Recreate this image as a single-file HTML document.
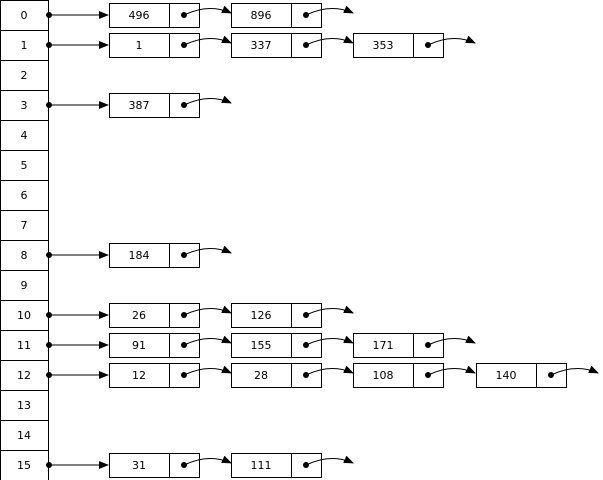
<!DOCTYPE html><html><head><style>body{margin:0;background:#fff}svg{display:block}text{font-family:"DejaVu Sans","Liberation Sans",sans-serif;font-size:11px;fill:#000}</style></head><body>
<svg width="603" height="480" xmlns="http://www.w3.org/2000/svg">
<defs><marker id="a" markerWidth="10" markerHeight="8" refX="9" refY="4" orient="auto" markerUnits="userSpaceOnUse"><path d="M0,0 L10,4 L0,8z" fill="#000"/></marker></defs>
<g id="g"></g>
</svg>
<script>
var g=document.getElementById('g'),s='';
var data={0:[496,896],1:[1,337,353],3:[387],8:[184],10:[26,126],11:[91,155,171],12:[12,28,108,140],15:[31,111]};
var xs=[109,231,353,476];
for(var i=0;i<16;i++){var y=i*30;
s+='<rect x="0.5" y="'+(y+0.5)+'" width="48" height="30" fill="#fff" stroke="#000"/>';
s+='<text x="24" y="'+(y+19)+'" text-anchor="middle">'+i+'</text>';
var d=data[i];if(!d)continue;var cy=y+15;
s+='<circle cx="49" cy="'+cy+'" r="3"/><line x1="49" y1="'+cy+'" x2="108" y2="'+cy+'" stroke="#000" marker-end="url(#a)"/>';
d.forEach(function(v,k){var x=xs[k];
s+='<rect x="'+(x+0.5)+'" y="'+(cy-11.5)+'" width="90" height="24" fill="#fff" stroke="#000"/><line x1="'+(x+60.5)+'" y1="'+(cy-11.5)+'" x2="'+(x+60.5)+'" y2="'+(cy+12.5)+'" stroke="#000"/>';
s+='<text x="'+(x+30)+'" y="'+(cy+4)+'" text-anchor="middle">'+v+'</text>';
s+='<circle cx="'+(x+75)+'" cy="'+cy+'" r="3"/><path d="M'+(x+75)+' '+cy+' Q'+(x+100)+' '+(cy-12)+' '+(x+122)+' '+(cy-2)+'" fill="none" stroke="#000" marker-end="url(#a)"/>';
});}
g.innerHTML=s;
</script>
</body></html>
